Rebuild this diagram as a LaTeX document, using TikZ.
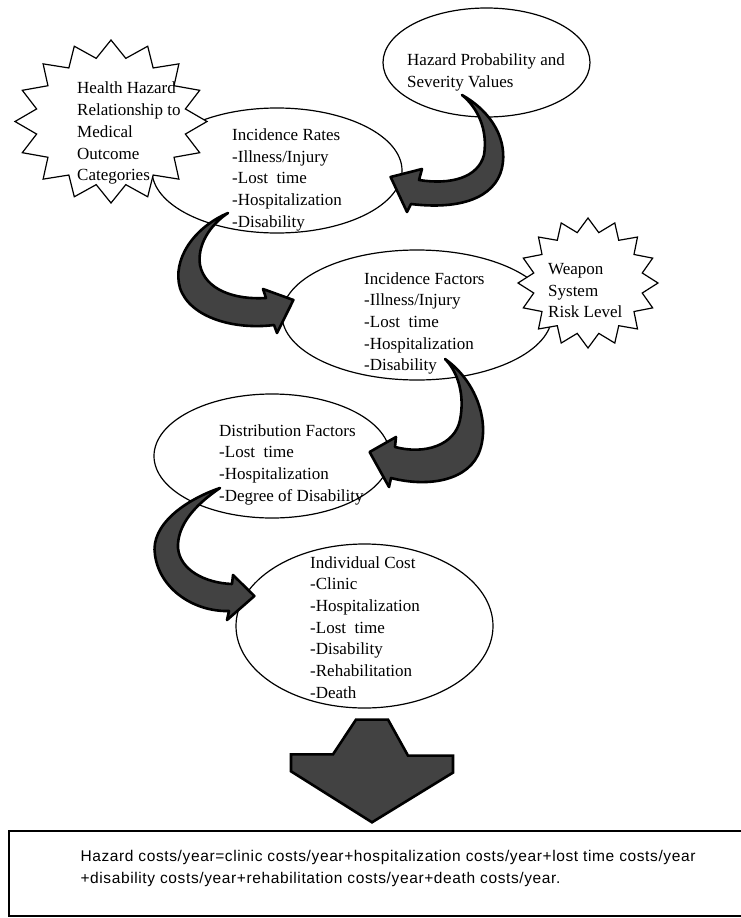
\documentclass[tikz,border=0pt]{standalone}
\usepackage{fontspec}
\setmainfont{Liberation Serif}
\newfontfamily\formulafont[LetterSpace=4]{Liberation Sans}
\usetikzlibrary{shapes.geometric,calc}

% star-like burst round a centre: centre, x radius, y radius, inner ratio
\newcommand\burst[4]{%
	\filldraw[burstline] ($(#1)+(90:#2 and #3)$)
		\foreach \k [evaluate=\k as \r using {mod(\k,2)==0 ? 1 : #4}] in {1,...,31}
			{ -- ($(#1)+({90+\k*11.25}:{\r*#2} and {\r*#3})$) } -- cycle;}

\begin{document}
\begin{tikzpicture}[x=1pt,y=-1pt,
		oval/.style={draw,ellipse,line width=1.2pt,fill=white,inner sep=0pt},
		burstline/.style={draw=black,fill=white,line width=1.2pt,line join=miter},
		blockarrow/.style={fill=black!74,draw=black,line width=2.6pt,line join=round},
		txt/.style={font=\fontsize{17}{21.7}\selectfont,align=left,inner sep=0pt,anchor=north west},
		costbox/.style={draw,line width=1.4pt,minimum width=741pt,minimum height=85pt,inner sep=0pt},
		formula/.style={font=\formulafont\fontsize{15.5}{21.5}\selectfont,align=left,inner sep=0pt,anchor=north west}]
	\useasboundingbox (0,0) rectangle (741,918);

	% ovals
	\node[oval,minimum width=207pt,minimum height=109pt] (prob) at (486.5,62.5) {};
	\node[oval,minimum width=250pt,minimum height=125pt] (rates) at (277,170.5) {};
	\node[oval,minimum width=270pt,minimum height=130pt] (factors) at (417,315) {};
	\node[oval,minimum width=236pt,minimum height=124pt] (distrib) at (272,456) {};
	\node[oval,minimum width=257pt,minimum height=164pt] (indiv) at (364.5,626) {};
	\node[costbox] (costs) at (379.5,873.5) {};

	% bursts
	\coordinate (hazard) at (111,121.5);
	\coordinate (weapon) at (588,283);
	\burst{hazard}{96}{81.5}{0.79}
	\burst{weapon}{70}{65}{0.79}

	% arrow ends
	\coordinate (tail1) at ($(prob)+(-24.5,32.5)$);
	\coordinate (tip1) at ($(rates.east)+(-12,6.5)$);
	\coordinate (tail2) at ($(rates)+(-49,42.5)$);
	\coordinate (tip2) at ($(factors.west)+(12,-15)$);
	\coordinate (tail3) at ($(factors)+(28,44)$);
	\coordinate (tip3) at ($(distrib.east)+(-21,-4)$);
	\coordinate (tail4) at ($(distrib)+(-52,32)$);
	\coordinate (tip4) at ($(indiv.west)+(19,-30)$);
	\coordinate (dntop) at ($(indiv.south)+(7.5,11)$);
	\coordinate (dntip) at ($(costs.north)+(-7.5,-8)$);

	\filldraw[blockarrow] (tail1) .. controls (492,112) and (508,140) .. (502,168)
		.. controls (495,198) and (460,210) .. (411,204) -- (407,212) -- (tip1) -- (422,169) -- (419,180)
		.. controls (450,185) and (478,178) .. (484,155) .. controls (488,130) and (478,108) .. (tail1) -- cycle;
	\filldraw[blockarrow] (tail2) .. controls (193,228) and (172,260) .. (180,288)
		.. controls (190,318) and (235,330) .. (274,325) -- (277,333) -- (tip2) -- (263,289) -- (266,298)
		.. controls (235,300) and (205,290) .. (200,265) .. controls (197,245) and (210,225) .. (tail2) -- cycle;
	\filldraw[blockarrow] (tail3) .. controls (475,380) and (490,420) .. (480,450)
		.. controls (470,480) and (430,488) .. (391,478) -- (389,487) -- (tip3) -- (396,437) -- (395,447)
		.. controls (425,455) and (455,445) .. (460,420) .. controls (465,395) and (458,372) .. (tail3) -- cycle;
	\filldraw[blockarrow] (tail4) .. controls (185,500) and (150,525) .. (155,555)
		.. controls (160,590) and (195,612) .. (229,611) -- (227,620) -- (tip4) -- (233,575) -- (232,584)
		.. controls (205,583) and (180,570) .. (178,548) .. controls (177,525) and (195,505) .. (tail4) -- cycle;
	\filldraw[blockarrow,line join=miter] (dntop) ++(-16,0) -- ++(32,0) -- ++(20,36) -- ++(45,0) -- ++(0,17)
		-- (dntip) -- ++(-81,-51) -- ++(0,-17) -- ++(42,0) -- cycle;

	% texts
	\node[txt] (hazard-txt) at ($(hazard)+(-34,-39.5)$) {Health Hazard\\Relationship to\\Medical\\Outcome\\Categories};
	\node[txt] (prob-txt) at ($(prob)+(-79.5,-8.5)$) {Hazard Probability and\\Severity Values};
	\node[txt] (rates-txt) at ($(rates)+(-45,-42)$) {Incidence Rates\\-Illness/Injury\\-Lost\ \ time\\-Hospitalization\\-Disability};
	\node[txt] (factors-txt) at ($(factors)+(-53,-43)$) {Incidence Factors\\-Illness/Injury\\-Lost\ \ time\\-Hospitalization\\-Disability};
	\node[txt] (weapon-txt) at ($(weapon)+(-40,-20)$) {Weapon\\System\\Risk Level};
	\node[txt] (distrib-txt) at ($(distrib)+(-53,-32)$) {Distribution Factors\\-Lost\ \ time\\-Hospitalization\\-Degree of Disability};
	\node[txt] (indiv-txt) at ($(indiv)+(-54.5,-70)$) {Individual Cost\\-Clinic\\-Hospitalization\\-Lost\ \ time\\-Disability\\-Rehabilitation\\-Death};
	\node[formula] (sum) at ($(costs.west)+(72,-23)$) {Hazard costs/year=clinic costs/year+hospitalization costs/year+lost time costs/year\\+disability costs/year+rehabilitation costs/year+death costs/year.};
\end{tikzpicture}
\end{document}
